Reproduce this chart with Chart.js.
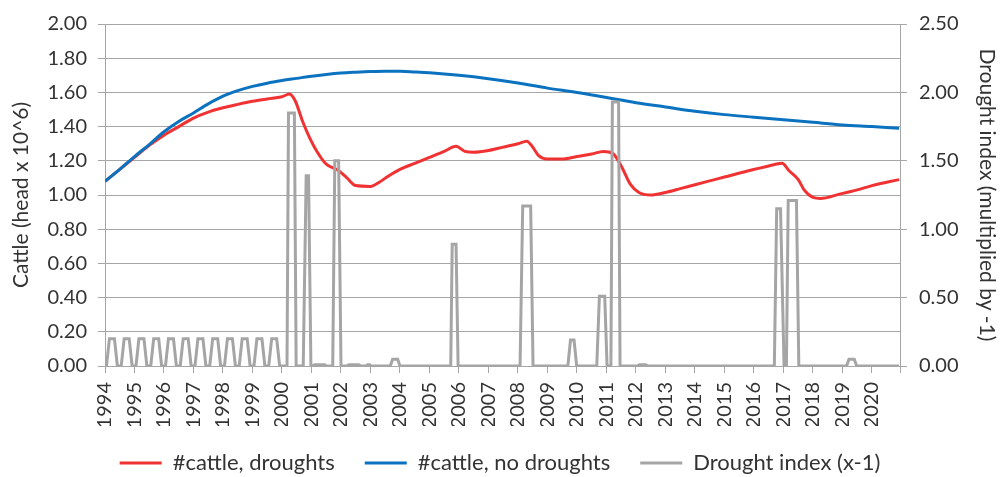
<!DOCTYPE html>
<html>
<head>
<meta charset="utf-8">
<script src="https://cdn.jsdelivr.net/npm/chart.js@4.4.1/dist/chart.umd.min.js"></script>
<style>
  html, body { margin: 0; padding: 0; background: #fff; }
  #wrap { width: 1000px; height: 477px; }
</style>
</head>
<body>
<div id="wrap"><canvas id="chart"></canvas></div>
<script>
// cattle with droughts (head x 10^6)
const redYears = [1994.0, 1994.5, 1995.0, 1995.5, 1996.0, 1996.5, 1997.0, 1997.5, 1998.0, 1998.5,
  1999.0, 1999.5, 2000.0, 2000.25, 2000.45, 2000.7, 2000.95, 2001.2, 2001.5, 2001.9,
  2002.2, 2002.5, 2003.0, 2003.3, 2003.6, 2004.0, 2004.5, 2005.0, 2005.5, 2005.9,
  2006.2, 2006.5, 2007.0, 2007.5, 2008.0, 2008.3, 2008.5, 2008.7, 2009.0, 2009.5,
  2010.0, 2010.5, 2010.9, 2011.2, 2011.5, 2011.8, 2012.1, 2012.5, 2013.0, 2013.5,
  2014.0, 2014.6, 2015.0, 2015.75, 2016.5, 2016.95, 2017.2, 2017.5, 2017.7, 2018.0,
  2018.25, 2018.9, 2019.5, 2020.0, 2020.92];
const redValues = [1.08, 1.15, 1.22, 1.29, 1.35, 1.40, 1.45, 1.485, 1.51, 1.53,
  1.548, 1.562, 1.575, 1.59, 1.55, 1.43, 1.33, 1.25, 1.18, 1.145,
  1.10, 1.055, 1.05, 1.075, 1.11, 1.15, 1.185, 1.22, 1.255, 1.285,
  1.255, 1.25, 1.26, 1.28, 1.30, 1.315, 1.28, 1.23, 1.21, 1.21,
  1.225, 1.24, 1.255, 1.245, 1.17, 1.065, 1.015, 1.0, 1.015, 1.037,
  1.06, 1.087, 1.105, 1.139, 1.17, 1.185, 1.14, 1.09, 1.03, 0.986,
  0.98, 1.005, 1.03, 1.055, 1.09];

// cattle without droughts
const blueYears = [1994.0, 1994.5, 1995.0, 1995.5, 1996.0, 1996.5, 1997.0, 1997.5, 1998.0, 1998.5,
  1999.0, 1999.5, 2000.0, 2000.5, 2001.0, 2001.5, 2002.0, 2002.5, 2003.0, 2003.5,
  2004.0, 2004.5, 2005.0, 2006.0, 2007.0, 2008.0, 2009.0, 2010.0, 2011.0, 2012.0,
  2013.0, 2014.0, 2015.0, 2016.0, 2017.0, 2018.0, 2019.0, 2020.0, 2020.92];
const blueValues = [1.08, 1.15, 1.225, 1.295, 1.37, 1.43, 1.48, 1.533, 1.578, 1.61,
  1.635, 1.654, 1.669, 1.682, 1.695, 1.705, 1.713, 1.718, 1.722, 1.724,
  1.724, 1.72, 1.715, 1.70, 1.68, 1.655, 1.625, 1.60, 1.57, 1.54,
  1.515, 1.49, 1.47, 1.455, 1.44, 1.425, 1.41, 1.40, 1.39];

// drought index (x-1), right axis
const droughtYears = [1994.00,
  1994.05, 1994.15, 1994.32, 1994.42,
  1994.55, 1994.65, 1994.82, 1994.92,
  1995.05, 1995.15, 1995.32, 1995.42,
  1995.55, 1995.65, 1995.82, 1995.92,
  1996.05, 1996.15, 1996.32, 1996.42,
  1996.55, 1996.65, 1996.82, 1996.92,
  1997.05, 1997.15, 1997.32, 1997.42,
  1997.55, 1997.65, 1997.82, 1997.92,
  1998.05, 1998.15, 1998.32, 1998.42,
  1998.55, 1998.65, 1998.82, 1998.92,
  1999.05, 1999.15, 1999.32, 1999.42,
  1999.55, 1999.65, 1999.82, 1999.92,
  2000.17, 2000.22, 2000.42, 2000.48,
  2000.72, 2000.82, 2000.90, 2000.98,
  2001.05, 2001.10, 2001.45, 2001.50,
  2001.72, 2001.79, 2001.92, 2002.00,
  2002.20, 2002.27, 2002.60, 2002.67,
  2002.85, 2002.90, 2002.97, 2003.02,
  2003.67, 2003.75, 2003.92, 2004.00,
  2005.72, 2005.77, 2005.90, 2005.97,
  2008.07, 2008.16, 2008.43, 2008.51,
  2009.69, 2009.78, 2009.90, 2009.99,
  2010.67, 2010.76, 2010.94, 2011.02,
  2011.15, 2011.20, 2011.41, 2011.46,
  2012.05, 2012.12, 2012.33, 2012.40,
  2016.69, 2016.77, 2016.90, 2017.02,
  2017.10, 2017.16, 2017.44, 2017.52,
  2019.14, 2019.22, 2019.40, 2019.48,
  2020.92];
const droughtValues = [0,
  0, 0.2, 0.2, 0,
  0, 0.2, 0.2, 0,
  0, 0.2, 0.2, 0,
  0, 0.2, 0.2, 0,
  0, 0.2, 0.2, 0,
  0, 0.2, 0.2, 0,
  0, 0.2, 0.2, 0,
  0, 0.2, 0.2, 0,
  0, 0.2, 0.2, 0,
  0, 0.2, 0.2, 0,
  0, 0.2, 0.2, 0,
  0, 0.2, 0.2, 0,
  0, 1.85, 1.85, 0,
  0, 1.39, 1.39, 0,
  0, 0.01, 0.01, 0,
  0, 1.50, 1.50, 0,
  0, 0.01, 0.01, 0,
  0, 0.01, 0.01, 0,
  0, 0.05, 0.05, 0,
  0, 0.89, 0.89, 0,
  0, 1.17, 1.17, 0,
  0, 0.19, 0.19, 0,
  0, 0.51, 0.51, 0,
  0, 1.93, 1.93, 0,
  0, 0.01, 0.01, 0,
  0, 1.15, 1.15, 0,
  0, 1.21, 1.21, 0,
  0, 0.05, 0.05, 0,
  0];

const seriesNames = ['#cattle, droughts', '#cattle, no droughts', 'Drought index (x-1)'];
const xMin = 1994;
const xMax = 2020.95;

const gridColor = '#a6a6a6';
const textColor = '#333333';

function toPoints(xs, ys) {
  return xs.map((x, i) => ({ x: x, y: ys[i] }));
}

// the x labels are clipped to their own box, so the axis box is tall and
// the legend is lifted back up into place once the layout is done
const legendLift = {
  id: 'legendLift',
  afterLayout(chart) {
    if (chart.legend) {
      chart.legend.top -= 4;
      chart.legend.bottom -= 4;
    }
  },
};

Chart.defaults.font.family = 'Lato';
Chart.defaults.color = textColor;

new Chart(document.getElementById('chart'), {
  type: 'line',
  data: {
    datasets: [
      {
        label: seriesNames[0],
        data: toPoints(redYears, redValues),
        borderColor: '#f03232',
        backgroundColor: '#f03232',
        borderWidth: 3,
        pointRadius: 0,
        cubicInterpolationMode: 'monotone',
        yAxisID: 'y',
        order: 3,
      },
      {
        label: seriesNames[1],
        data: toPoints(blueYears, blueValues),
        borderColor: '#0b72c0',
        backgroundColor: '#0b72c0',
        borderWidth: 3,
        pointRadius: 0,
        cubicInterpolationMode: 'monotone',
        yAxisID: 'y',
        order: 2,
      },
      {
        label: seriesNames[2],
        data: toPoints(droughtYears, droughtValues),
        borderColor: '#a5a5a5',
        backgroundColor: '#a5a5a5',
        borderWidth: 3,
        pointRadius: 0,
        tension: 0,
        yAxisID: 'y1',
        order: 1,
      },
    ],
  },
  plugins: [legendLift],
  options: {
    responsive: true,
    maintainAspectRatio: false,
    animation: false,
    layout: { padding: { top: 19, bottom: -11, left: 0, right: 0 } },
    plugins: {
      tooltip: { enabled: false },
      legend: {
        position: 'bottom',
        labels: {
          boxWidth: 42,
          boxHeight: 3,
          padding: 30,
          color: textColor,
          font: { size: 22 },
          sort: (a, b) => a.datasetIndex - b.datasetIndex,
          generateLabels: (chart) =>
            Chart.defaults.plugins.legend.labels.generateLabels(chart).map((item) => ({
              ...item,
              lineWidth: 0,
              fillStyle: item.strokeStyle,
            })),
        },
      },
    },
    scales: {
      x: {
        type: 'linear',
        min: xMin,
        max: xMax,
        afterFit: (scale) => { scale.height = 60; },
        grid: { drawOnChartArea: false, color: gridColor, tickLength: 7 },
        border: { color: gridColor },
        ticks: {
          stepSize: 1,
          minRotation: 90,
          maxRotation: 90,
          autoSkip: false,
          padding: 9,
          font: { size: 20 },
          color: textColor,
          callback: (value) => (Number.isInteger(value) ? String(value) : ''),
        },
      },
      y: {
        position: 'left',
        min: 0,
        max: 2,
        afterFit: (scale) => { scale.width = 105; },
        grid: { color: gridColor, tickLength: 7 },
        border: { color: gridColor },
        ticks: {
          stepSize: 0.2,
          padding: 11,
          font: { size: 20 },
          color: textColor,
          callback: (value) => value.toFixed(2),
        },
        title: {
          display: true,
          text: 'Cattle (head x 10^6)',
          font: { size: 21 },
          color: textColor,
          padding: { top: 9, bottom: 0 },
        },
      },
      y1: {
        position: 'right',
        min: 0,
        max: 2.5,
        afterFit: (scale) => { scale.width = 100; },
        grid: { drawOnChartArea: false, color: gridColor, tickLength: 7 },
        border: { color: gridColor },
        ticks: {
          stepSize: 0.5,
          padding: 12,
          font: { size: 20 },
          color: textColor,
          callback: (value) => value.toFixed(2),
        },
        title: {
          display: true,
          text: 'Drought index (multiplied by -1)',
          font: { size: 21 },
          color: textColor,
          padding: { top: 1, bottom: 0 },
        },
      },
    },
  },
});
</script>
</body>
</html>
